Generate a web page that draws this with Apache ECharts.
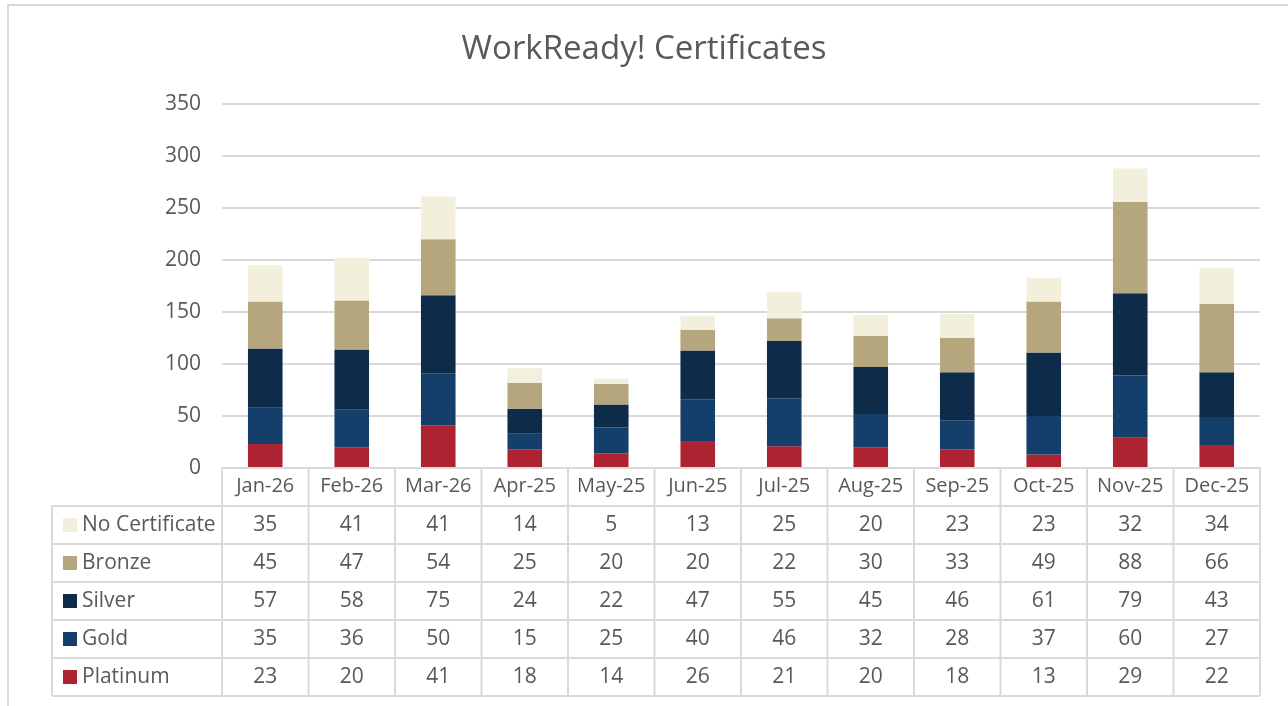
<!DOCTYPE html>
<html>
<head>
<meta charset="utf-8">
<script src="https://cdn.jsdelivr.net/npm/echarts@6/dist/echarts.min.js"></script>
<style>
  html, body { margin: 0; padding: 0; background: #fff; }
  #main { width: 1288px; height: 706px; }
</style>
</head>
<body>
<div id="main"></div>
<script>
// 月份
var months = ['Jan-26', 'Feb-26', 'Mar-26', 'Apr-25', 'May-25', 'Jun-25', 'Jul-25', 'Aug-25', 'Sep-25', 'Oct-25', 'Nov-25', 'Dec-25'];
// 各证书等级人数
var platinum = [23, 20, 41, 18, 14, 26, 21, 20, 18, 13, 29, 22];
var gold = [35, 36, 50, 15, 25, 40, 46, 32, 28, 37, 60, 27];
var silver = [57, 58, 75, 24, 22, 47, 55, 45, 46, 61, 79, 43];
var bronze = [45, 47, 54, 25, 20, 20, 22, 30, 33, 49, 88, 66];
var noCert = [35, 41, 41, 14, 5, 13, 25, 20, 23, 23, 32, 34];
var yTicks = [0, 50, 100, 150, 200, 250, 300, 350];

var font = '"Open Sans", "Noto Sans", sans-serif';
var textColor = '#595959';
var lineColor = '#D9D9D9';
var fs = 21;

// 堆叠顺序（自下而上）
var seriesList = [
  { name: 'Platinum', data: platinum, color: '#AE2331' },
  { name: 'Gold', data: gold, color: '#143F6B' },
  { name: 'Silver', data: silver, color: '#0E2B4A' },
  { name: 'Bronze', data: bronze, color: '#B5A67E' },
  { name: 'No Certificate', data: noCert, color: '#F2F0DC' }
];

var gridLeft = 222, gridRight = 28, gridTop = 104, gridBottom = 238;
var myChart = echarts.init(document.getElementById('main'));

var option = {
  animation: false,
  title: {
    text: 'WorkReady! Certificates',
    left: 'center',
    top: 28,
    textStyle: { fontFamily: font, fontSize: 33, fontWeight: 'normal', color: textColor }
  },
  grid: { left: gridLeft, right: gridRight, top: gridTop, bottom: gridBottom },
  xAxis: {
    type: 'category',
    data: months,
    axisLine: { show: false },
    axisTick: { show: false },
    axisLabel: { interval: 0, hideOverlap: false, margin: 8, fontFamily: font, fontSize: 20, color: textColor }
  },
  yAxis: {
    type: 'value',
    min: yTicks[0],
    max: yTicks[yTicks.length - 1],
    interval: 50,
    axisLine: { show: false },
    axisTick: { show: false },
    axisLabel: { margin: 21, fontFamily: font, fontSize: fs, color: textColor },
    splitLine: { lineStyle: { color: lineColor, width: 2 } }
  },
  series: seriesList.map(function (s) {
    return {
      name: s.name,
      type: 'bar',
      stack: 'total',
      data: s.data,
      barWidth: '40%',
      itemStyle: { color: s.color }
    };
  })
};
myChart.setOption(option);

// 数据表（图表下方）
var rowTop = 506, rowH = 38, tableLeft = 52;
var gridRightX = 1288 - gridRight;
var cellW = (gridRightX - gridLeft) / months.length;
var axisY = myChart.convertToPixel({ yAxisIndex: 0 }, 0);
var tableRows = seriesList.slice().reverse();
var tableBottom = rowTop + rowH * tableRows.length;
var g = [];
var lineStyle = { stroke: lineColor, lineWidth: 2 };

// 外框
g.push({ type: 'rect', shape: { x: 8, y: 5, width: 1300, height: 720 }, style: { fill: 'none', stroke: lineColor, lineWidth: 2 } });

g.push({ type: 'line', shape: { x1: gridLeft, y1: axisY, x2: gridRightX, y2: axisY }, style: lineStyle, z: 10 });
for (var r = 0; r <= tableRows.length; r++) {
  var y = rowTop + r * rowH;
  g.push({ type: 'line', shape: { x1: tableLeft, y1: y, x2: gridRightX, y2: y }, style: lineStyle });
}
g.push({ type: 'line', shape: { x1: tableLeft, y1: rowTop, x2: tableLeft, y2: tableBottom }, style: lineStyle });
for (var k = 0; k <= months.length; k++) {
  var x = gridLeft + k * cellW;
  g.push({ type: 'line', shape: { x1: x, y1: axisY, x2: x, y2: tableBottom }, style: lineStyle });
}

tableRows.forEach(function (s, r) {
  var cy = rowTop + r * rowH + rowH / 2;
  g.push({ type: 'rect', shape: { x: 63, y: cy - 7, width: 14, height: 14 }, style: { fill: s.color } });
  g.push({
    type: 'text', x: 82, y: cy,
    style: { text: s.name, fontFamily: font, fontSize: fs, fill: textColor, align: 'left', verticalAlign: 'middle' }
  });
  s.data.forEach(function (v, i) {
    var cx = myChart.convertToPixel({ xAxisIndex: 0 }, i);
    g.push({
      type: 'text', x: cx, y: cy,
      style: { text: String(v), fontFamily: font, fontSize: fs, fill: textColor, align: 'center', verticalAlign: 'middle' }
    });
  });
});

myChart.setOption({ graphic: g });
</script>
</body>
</html>
